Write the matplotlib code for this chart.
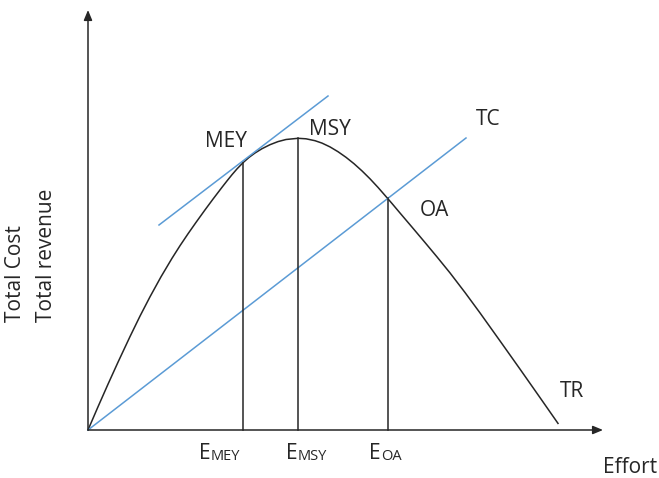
import matplotlib
matplotlib.use("Agg")
import matplotlib.pyplot as plt

plt.rcParams['font.family'] = ['Open Sans', 'DejaVu Sans']

# total revenue curve (effort, revenue)
tr_effort = [0, 10, 20, 30, 42, 52, 62, 73, 84, 92, 100, 108, 117, 125, 134,
             139, 144, 149, 155, 161, 167, 174, 182, 190, 198, 210,
             218, 227, 234, 242, 250, 258, 266, 274, 282, 290, 297, 304, 312,
             324, 337, 349, 362, 377, 392, 412, 432, 452, 470]
tr_revenue = [0, 23.2, 45.8, 67.8, 93.4, 113.9, 133.2, 153.2, 171.7, 184.3,
              196.2, 207.6, 220.1, 230.9, 242.7, 249.1, 255.3, 261.1, 267.3,
              272.6, 277.0, 281.3, 285.3, 288.4, 290.5, 291.7,
              291.2, 289.3, 286.9, 283.1, 278.3, 272.7, 266.3, 259.1, 251.2,
              242.6, 234.6, 226.5, 217.0, 202.9, 187.5, 173.1, 157.1, 137.5,
              117.1, 89.1, 60.9, 32.4, 6.6]

# total cost line and the tangent at MEY
tc_effort = [0, 378]
tc_cost = [0, 292]
tangent_effort = [71, 240]
tangent_value = [205, 334]

# equilibrium points (effort, revenue)
point_effort = [155, 210, 300]
point_revenue = [267, 292, 232]
point_subs = ["MEY", "MSY", "OA"]

x_end = 515
y_end = 420

black = '#262626'
blue = '#5b9bd5'

fig = plt.figure(figsize=(6.59, 4.78), dpi=100)
ax = fig.add_axes([0, 0, 1, 1])
ax.set_xlim(-88, 571)
ax.set_ylim(-48, 430)
ax.axis('off')

# axes with arrows
arrow = dict(arrowstyle='-|>,head_length=0.6,head_width=0.25',
             color=black, lw=1.1, shrinkA=0, shrinkB=0)
ax.annotate("", xy=(x_end, 0), xytext=(0, 0), arrowprops=arrow)
ax.annotate("", xy=(0, y_end), xytext=(0, 0), arrowprops=arrow)

ax.plot(tr_effort, tr_revenue, color=black, lw=1.1, solid_joinstyle='round')
ax.plot(tc_effort, tc_cost, color=blue, lw=1.1)
ax.plot(tangent_effort, tangent_value, color=blue, lw=1.1)

for e, r in zip(point_effort, point_revenue):
    ax.plot([e, e], [0, r], color=black, lw=1.1)

fs = 15
ax.text(138, 283, "MEY", fontsize=fs, ha='center', va='baseline', color=black)
ax.text(242, 295, "MSY", fontsize=fs, ha='center', va='baseline', color=black)
ax.text(388, 305, "TC", fontsize=fs, ha='left', va='baseline', color=black)
ax.text(346, 214, "OA", fontsize=fs, ha='center', va='baseline', color=black)
ax.text(484, 33, "TR", fontsize=fs, ha='center', va='baseline', color=black)
ax.text(542, -43, "Effort", fontsize=fs, ha='center', va='baseline', color=black)
ax.text(-67, 108, "Total Cost", fontsize=fs, rotation=90, rotation_mode='anchor',
        ha='left', va='baseline', color=black)
ax.text(-36, 108, "Total revenue", fontsize=fs, rotation=90, rotation_mode='anchor',
        ha='left', va='baseline', color=black)

# E labels under the axis, subscript set as small caps on the same baseline
label_left = [111, 198, 281]
for xl, sub in zip(label_left, point_subs):
    t = ax.text(xl, -29, "E", fontsize=fs, ha='left', va='baseline', color=black)
    ax.annotate(sub, xy=(1, 0), xycoords=t, fontsize=10.5, ha='left',
                va='bottom', color=black)

fig.savefig("out.png", dpi=100)
